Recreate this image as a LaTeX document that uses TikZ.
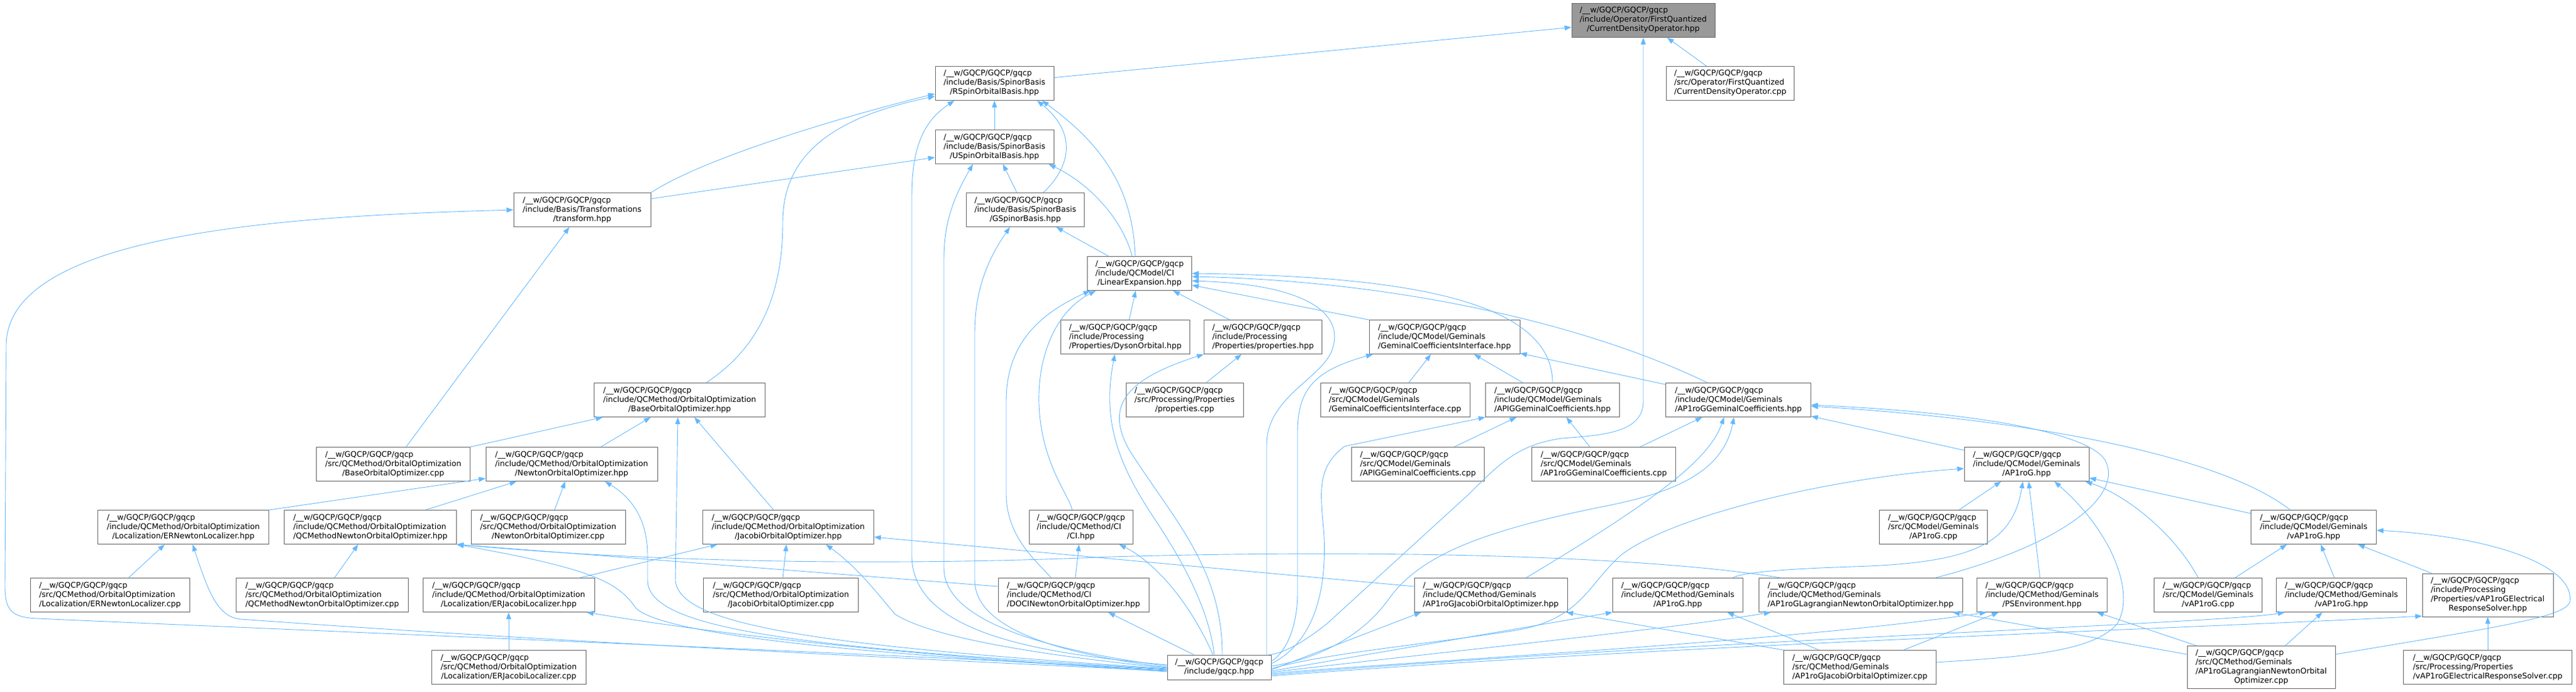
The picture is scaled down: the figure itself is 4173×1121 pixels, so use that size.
\documentclass[tikz,border=0pt]{standalone}
\usepackage{fontspec}
\setmainfont{DejaVu Sans}
\usepackage{xcolor}
\usetikzlibrary{arrows.meta}

\definecolor{edgeblue}{HTML}{63B8FF}
\definecolor{boxline}{HTML}{666666}
\definecolor{rootfill}{HTML}{999999}

% file label: common prefix, middle lines left, last line centred
\newcommand{\gpath}[2]{\begin{tabular}{@{}l@{}}/\_\_w/GQCP/GQCP/gqcp\\#1\\\multicolumn{1}{@{}c@{}}{#2}\end{tabular}}

\begin{document}
\begin{tikzpicture}[x=1pt, y=-1pt,
  >={Triangle[length=11pt,width=8pt]},
  fbox/.style={draw=boxline, line width=0.9pt, fill=white, inner sep=0pt,
    minimum height=55pt, font=\fontsize{12.6}{15}\selectfont},
  incl/.style={<-, draw=edgeblue, line width=0.9pt}]
  \useasboundingbox (0,0) rectangle (4173,1121);

  % Draw the file boxes, rank by rank
  \node[fbox, fill=rootfill, minimum width=232pt] (cdo) at (2662,33) {\gpath{/include/Operator/FirstQuantized}{/CurrentDensityOperator.hpp}};
  \node[fbox, minimum width=192pt] (rsob) at (1611,135) {\gpath{/include/Basis/SpinorBasis}{/RSpinOrbitalBasis.hpp}};
  \node[fbox, minimum width=207pt] (cdocpp) at (2803,135) {\gpath{/src/Operator/FirstQuantized}{/CurrentDensityOperator.cpp}};
  \node[fbox, minimum width=192pt] (usob) at (1611,238) {\gpath{/include/Basis/SpinorBasis}{/USpinOrbitalBasis.hpp}};
  \node[fbox, minimum width=222pt] (transform) at (943,340) {\gpath{/include/Basis/Transformations}{/transform.hpp}};
  \node[fbox, minimum width=191pt] (gsb) at (1661,340) {\gpath{/include/Basis/SpinorBasis}{/GSpinorBasis.hpp}};
  \node[fbox, minimum width=169pt] (linexp) at (1846,443) {\gpath{/include/QCModel/CI}{/LinearExpansion.hpp}};
  \node[fbox, minimum width=209pt] (dyson) at (1823,546) {\gpath{/include/Processing}{/Properties/DysonOrbital.hpp}};
  \node[fbox, minimum width=191pt] (props) at (2046,546) {\gpath{/include/Processing}{/Properties/properties.hpp}};
  \node[fbox, minimum width=244pt] (gci) at (2340,546) {\gpath{/include/QCModel/Geminals}{/GeminalCoefficientsInterface.hpp}};
  \node[fbox, minimum width=277pt] (boo) at (1101,648) {\gpath{/include/QCMethod/OrbitalOptimization}{/BaseOrbitalOptimizer.hpp}};
  \node[fbox, minimum width=190pt] (propscpp) at (1919,648) {\gpath{/src/Processing/Properties}{/properties.cpp}};
  \node[fbox, minimum width=242pt] (gcicpp) at (2260,648) {\gpath{/src/QCModel/Geminals}{/GeminalCoefficientsInterface.cpp}};
  \node[fbox, minimum width=217pt] (apig) at (2515,648) {\gpath{/include/QCModel/Geminals}{/APIGGeminalCoefficients.hpp}};
  \node[fbox, minimum width=235pt] (ap1rogc) at (2816,648) {\gpath{/include/QCModel/Geminals}{/AP1roGGeminalCoefficients.hpp}};
  \node[fbox, minimum width=249pt] (boocpp) at (637,752) {\gpath{/src/QCMethod/OrbitalOptimization}{/BaseOrbitalOptimizer.cpp}};
  \node[fbox, minimum width=278pt] (noo) at (926,752) {\gpath{/include/QCMethod/OrbitalOptimization}{/NewtonOrbitalOptimizer.hpp}};
  \node[fbox, minimum width=215pt] (apigcpp) at (2297,752) {\gpath{/src/QCModel/Geminals}{/APIGGeminalCoefficients.cpp}};
  \node[fbox, minimum width=233pt] (ap1rogccpp) at (2598,752) {\gpath{/src/QCModel/Geminals}{/AP1roGGeminalCoefficients.cpp}};
  \node[fbox, minimum width=202pt] (ap1rog) at (3283,752) {\gpath{/include/QCModel/Geminals}{/AP1roG.hpp}};
  \node[fbox, minimum width=277pt] (ernl) at (297,854) {\gpath{/include/QCMethod/OrbitalOptimization}{/Localization/ERNewtonLocalizer.hpp}};
  \node[fbox, minimum width=279pt] (qcmnoo) at (600,854) {\gpath{/include/QCMethod/OrbitalOptimization}{/QCMethodNewtonOrbitalOptimizer.hpp}};
  \node[fbox, minimum width=250pt] (noocpp) at (888,854) {\gpath{/src/QCMethod/OrbitalOptimization}{/NewtonOrbitalOptimizer.cpp}};
  \node[fbox, minimum width=277pt] (joo) at (1277,854) {\gpath{/include/QCMethod/OrbitalOptimization}{/JacobiOrbitalOptimizer.hpp}};
  \node[fbox, minimum width=168pt] (ci) at (1751,854) {\gpath{/include/QCMethod/CI}{/CI.hpp}};
  \node[fbox, minimum width=175pt] (ap1rogcpp) at (3132,854) {\gpath{/src/QCModel/Geminals}{/AP1roG.cpp}};
  \node[fbox, minimum width=203pt] (vap1rog) at (3748,854) {\gpath{/include/QCModel/Geminals}{/vAP1roG.hpp}};
  \node[fbox, minimum width=258pt] (ernlcpp) at (178,964) {\gpath{/src/QCMethod/OrbitalOptimization}{/Localization/ERNewtonLocalizer.cpp}};
  \node[fbox, minimum width=279pt] (qcmnoocpp) at (522,964) {\gpath{/src/QCMethod/OrbitalOptimization}{/QCMethodNewtonOrbitalOptimizer.cpp}};
  \node[fbox, minimum width=278pt] (erjl) at (824,964) {\gpath{/include/QCMethod/OrbitalOptimization}{/Localization/ERJacobiLocalizer.hpp}};
  \node[fbox, minimum width=251pt] (joocpp) at (1265,964) {\gpath{/src/QCMethod/OrbitalOptimization}{/JacobiOrbitalOptimizer.cpp}};
  \node[fbox, minimum width=244pt] (docinoo) at (1739,964) {\gpath{/include/QCMethod/CI}{/DOCINewtonOrbitalOptimizer.hpp}};
  \node[fbox, minimum width=248pt] (ajoo) at (2415,964) {\gpath{/include/QCMethod/Geminals}{/AP1roGJacobiOrbitalOptimizer.hpp}};
  \node[fbox, minimum width=211pt] (mapr1og) at (2718,964) {\gpath{/include/QCMethod/Geminals}{/AP1roG.hpp}};
  \node[fbox, minimum width=330pt] (alnoo) at (3014,964) {\gpath{/include/QCMethod/Geminals}{/AP1roGLagrangianNewtonOrbitalOptimizer.hpp}};
  \node[fbox, minimum width=211pt] (pse) at (3308,964) {\gpath{/include/QCMethod/Geminals}{/PSEnvironment.hpp}};
  \node[fbox, minimum width=175pt] (vap1rogcpp) at (3577,964) {\gpath{/src/QCModel/Geminals}{/vAP1roG.cpp}};
  \node[fbox, minimum width=211pt] (mvap1rog) at (3793,964) {\gpath{/include/QCMethod/Geminals}{/vAP1roG.hpp}};
  \node[fbox, minimum width=212pt, minimum height=70pt] (ers) at (4030,964) {\gpath{/include/Processing\\/Properties/vAP1roGElectrical}{ResponseSolver.hpp}};
  \node[fbox, minimum width=250pt] (erjlcpp) at (824,1081) {\gpath{/src/QCMethod/OrbitalOptimization}{/Localization/ERJacobiLocalizer.cpp}};
  \node[fbox, minimum width=168pt, minimum height=40pt, align=center] (gqcp) at (1975,1081) {/\_\_w/GQCP/GQCP/gqcp\\/include/gqcp.hpp};
  \node[fbox, minimum width=247pt] (ajoocpp) at (3013,1081) {\gpath{/src/QCMethod/Geminals}{/AP1roGJacobiOrbitalOptimizer.cpp}};
  \node[fbox, minimum width=240pt, minimum height=69pt] (alnoocpp) at (3663,1081) {\gpath{/src/QCMethod/Geminals\\/AP1roGLagrangianNewtonOrbital}{Optimizer.cpp}};
  \node[fbox, minimum width=273pt] (erscpp) at (4030,1081) {\gpath{/src/Processing/Properties}{/vAP1roGElectricalResponseSolver.cpp}};

  % CurrentDensityOperator.hpp
  \draw[incl] (cdo) -- (rsob);
  \draw[incl] (cdo) -- (cdocpp);
  \draw[incl] (cdo.south) -- (2662,650) .. controls (2662,700) and (2600,705) .. (2530,710) .. controls (2460,720) and (2430,750) .. (2380,800) -- (2150,1010) .. controls (2100,1050) and (2070,1060) .. ([xshift=-4pt]gqcp.north east);

  % RSpinOrbitalBasis.hpp
  \draw[incl] (rsob) -- (usob);
  \draw[incl] ([yshift=-17pt]rsob.west) .. controls (1400,180) and (1150,250) .. (transform.north east);
  \draw[incl] ([yshift=-21pt]rsob.west) .. controls (1350,190) and (1268,250) .. (1268,360) .. controls (1268,470) and (1235,560) .. ([xshift=43pt]boo.north);
  \draw[incl] ([xshift=-65pt]rsob.south) .. controls (1490,200) and (1477,250) .. (1477,320) -- (1477,900) .. controls (1477,1030) and (1700,1060) .. ([yshift=4pt]gqcp.west);
  \draw[incl] ([xshift=69pt]rsob.south) .. controls (1745,215) and (1735,270) .. ([xshift=29pt]gsb.north);
  \draw[incl] ([xshift=77pt]rsob.south) .. controls (1780,230) and (1835,300) .. ([xshift=-7pt]linexp.north);

  % USpinOrbitalBasis.hpp
  \draw[incl] ([yshift=-17pt]usob.west) -- ([yshift=18pt]transform.east);
  \draw[incl] (usob) -- (gsb);
  \draw[incl] ([xshift=88pt]usob.south) .. controls (1770,300) and (1820,360) .. ([xshift=-12pt]linexp.north);
  \draw[incl] ([xshift=-35pt]usob.south) .. controls (1545,320) and (1529,360) .. (1529,420) -- (1529,920) .. controls (1529,1020) and (1750,1060) .. ([yshift=2pt]gqcp.west);

  % transform.hpp and GSpinorBasis.hpp
  \draw[incl] (transform) -- (boocpp);
  \draw[incl] (transform.west) .. controls (450,350) and (10,380) .. (10,560) -- (8,950) .. controls (8,990) and (20,1000) .. (60,1002) .. controls (700,1030) and (1500,1062) .. ([yshift=-4pt]gqcp.west);
  \draw[incl] (gsb) -- (linexp);
  \draw[incl] ([xshift=-25pt]gsb.south) .. controls (1600,420) and (1579,470) .. (1579,540) -- (1579,940) .. controls (1579,1030) and (1760,1065) .. (gqcp.west);

  % LinearExpansion.hpp
  \draw[incl] ([xshift=-71pt]linexp.south) .. controls (1700,510) and (1675,600) .. (1685,680) .. controls (1695,760) and (1730,800) .. ([xshift=-14pt]ci.north);
  \draw[incl] ([xshift=-80pt]linexp.south) .. controls (1680,510) and (1630,560) .. (1630,650) -- (1630,800) .. controls (1630,870) and (1680,910) .. ([xshift=-36pt]docinoo.north);
  \draw[incl] (linexp) -- (dyson);
  \draw[incl] (linexp) -- (props);
  \draw[incl] ([yshift=-19pt]linexp.east) -- (gci.north west);
  \draw[incl] (linexp.east) .. controls (2250,447) and (2515,480) .. (apig.north);
  \draw[incl] ([yshift=-5pt]linexp.east) .. controls (2250,455) and (2560,520) .. ([xshift=-50pt]ap1rogc.north);
  \draw[incl] ([yshift=-12pt]linexp.east) .. controls (2100,460) and (2175,500) .. (2160,560) .. controls (2150,610) and (2052,640) .. (2052,720) -- ([xshift=77pt]gqcp.north);

  % Processing/Properties
  \draw[incl] ([xshift=-17pt]dyson.south) .. controls (1785,680) and (1810,750) .. (1870,840) .. controls (1930,930) and (1960,1000) .. ([xshift=-8pt]gqcp.north);
  \draw[incl] (props) -- (propscpp);
  \draw[incl] (props.south west) .. controls (1820,615) and (1790,660) .. (1830,730) .. controls (1900,840) and (1980,920) .. ([xshift=5pt]gqcp.north);

  % GeminalCoefficientsInterface.hpp
  \draw[incl] (gci) -- (gcicpp);
  \draw[incl] (gci) -- (apig);
  \draw[incl] (gci) -- (ap1rogc);
  \draw[incl] ([xshift=-116pt]gci.south) .. controls (2130,600) and (2102,630) .. (2102,700) -- (2102,960) .. controls (2102,1020) and (2080,1060) .. ([yshift=10pt]gqcp.east);

  % APIGGeminalCoefficients.hpp
  \draw[incl] (apig) -- (apigcpp);
  \draw[incl] (apig) -- (ap1rogccpp);
  \draw[incl] (apig.south west) -- (2178,723) .. controls (2130,760) and (2140,800) .. (2145,870) .. controls (2150,990) and (2110,1050) .. ([yshift=6pt]gqcp.east);

  % AP1roGGeminalCoefficients.hpp
  \draw[incl] (ap1rogc) -- (ap1rogccpp);
  \draw[incl] (ap1rogc) -- (ap1rog);
  \draw[incl] ([xshift=-23pt]ap1rogc.south) .. controls (2770,740) and (2700,800) .. ([xshift=57pt]ajoo.north);
  \draw[incl] ([xshift=-7pt]ap1rogc.south) .. controls (2790,770) and (2700,800) .. (2600,820) .. controls (2400,860) and (2300,900) .. (2250,970) .. controls (2200,1040) and (2120,1070) .. ([yshift=2pt]gqcp.east);
  \draw[incl] ([yshift=-10pt]ap1rogc.east) .. controls (3300,680) and (3600,740) .. ([xshift=-38pt]vap1rog.north);
  \draw[incl] ([yshift=-8pt]ap1rogc.east) .. controls (3200,668) and (3380,700) .. (3410,745) .. controls (3440,800) and (3350,880) .. ([xshift=121pt]alnoo.north);

  % QCModel/Geminals/AP1roG.hpp
  \draw[incl] (ap1rog) -- (ap1rogcpp);
  \draw[incl] ([xshift=-6pt]ap1rog.south) .. controls (3260,880) and (3200,912) .. (3000,918) .. controls (2880,922) and (2820,928) .. ([xshift=89pt]mapr1og.north);
  \draw[incl] (ap1rog) -- (pse);
  \draw[incl] ([xshift=45pt]ap1rog.south) .. controls (3420,860) and (3460,960) .. (3430,1010) .. controls (3390,1060) and (3250,1065) .. ([yshift=8pt]ajoocpp.east);
  \draw[incl] (ap1rog) -- (vap1rog);
  \draw[incl] ([xshift=95pt]ap1rog.south) .. controls (3440,800) and (3520,860) .. ([xshift=-16pt]vap1rogcpp.north);
  \draw[incl] ([yshift=-7pt]ap1rog.west) .. controls (2950,775) and (2700,840) .. (2625,900) .. controls (2570,950) and (2560,1005) .. (2450,1022) .. controls (2300,1045) and (2150,1058) .. ([yshift=-2pt]gqcp.east);

  % OrbitalOptimization
  \draw[incl] (boo) -- (boocpp);
  \draw[incl] (boo) -- (noo);
  \draw[incl] (boo) -- (joo);
  \draw[incl] ([xshift=-3pt]boo.south) -- (1094,940) .. controls (1100,1010) and (1300,1045) .. ([yshift=-2pt]gqcp.west);
  \draw[incl] ([yshift=-23pt]noo.west) -- (ernl.north east);
  \draw[incl] (noo) -- (qcmnoo);
  \draw[incl] (noo) -- (noocpp);
  \draw[incl] ([xshift=54pt]noo.south) .. controls (1030,810) and (1049,850) .. (1049,900) -- (1049,940) .. controls (1049,1020) and (1300,1050) .. ([yshift=-3pt]gqcp.west);
  \draw[incl] (ernl) -- (ernlcpp);
  \draw[incl] ([xshift=15pt]ernl.south) .. controls (335,950) and (350,1000) .. (390,1003) .. controls (900,1040) and (1500,1068) .. ([yshift=-6pt]gqcp.west);
  \draw[incl] (qcmnoo) -- (qcmnoocpp);
  \draw[incl] (qcmnoo.south east) -- ([yshift=14pt]docinoo.west);
  \draw[incl] (qcmnoo.south east) .. controls (1100,915) and (1500,915) .. (1800,902) .. controls (2300,888) and (2700,905) .. ([xshift=36pt]alnoo.north west);
  \draw[incl] (qcmnoo.south east) .. controls (950,920) and (1000,940) .. (1030,985) .. controls (1080,1035) and (1500,1066) .. ([yshift=-5pt]gqcp.west);
  \draw[incl] (joo) -- (erjl);
  \draw[incl] (joo) -- (joocpp);
  \draw[incl] ([yshift=-16pt]joo.east) -- ([yshift=14pt]ajoo.west);
  \draw[incl] ([xshift=61pt]joo.south) .. controls (1390,920) and (1420,960) .. (1450,995) .. controls (1520,1040) and (1750,1068) .. ([yshift=-1pt]gqcp.west);
  \draw[incl] (erjl) -- (erjlcpp);
  \draw[incl] ([xshift=-13pt]erjl.south east) .. controls (1300,1050) and (1700,1075) .. ([yshift=-7pt]gqcp.west);

  % CI
  \draw[incl] (ci) -- (docinoo);
  \draw[incl] ([xshift=62pt]ci.south) .. controls (1860,905) and (1920,960) .. ([xshift=-10pt]gqcp.north);
  \draw[incl] (docinoo) -- (gqcp);

  % QCMethod/Geminals
  \draw[incl] ([xshift=-2pt]ajoo.south east) -- (ajoocpp.north west);
  \draw[incl] ([xshift=-113pt]ajoo.south) -- ([yshift=-4pt]gqcp.east);
  \draw[incl] ([xshift=80pt]mapr1og.south) -- ([xshift=-66pt]ajoocpp.north);
  \draw[incl] (mapr1og.south west) -- ([yshift=-6pt]gqcp.east);
  \draw[incl] ([xshift=-16pt]alnoo.south east) -- ([yshift=21pt]alnoocpp.west);
  \draw[incl] ([xshift=20pt]alnoo.south west) .. controls (2700,1020) and (2300,1060) .. ([yshift=-8pt]gqcp.east);
  \draw[incl] (pse) -- (ajoocpp);
  \draw[incl] ([xshift=-17pt]pse.south east) -- ([xshift=16pt]alnoocpp.north west);
  \draw[incl] ([xshift=-90pt]pse.south) .. controls (2900,1040) and (2300,1070) .. ([yshift=-10pt]gqcp.east);

  % vAP1roG
  \draw[incl] (vap1rog) -- (vap1rogcpp);
  \draw[incl] (vap1rog) -- (mvap1rog);
  \draw[incl] (vap1rog) -- (ers);
  \draw[incl] ([yshift=-5pt]vap1rog.east) .. controls (4050,870) and (4172,920) .. (4163,975) .. controls (4155,1000) and (4050,1015) .. ([yshift=21pt]alnoocpp.east);
  \draw[incl] (mvap1rog) -- (alnoocpp);
  \draw[incl] ([xshift=-92pt]mvap1rog.south) .. controls (3600,1010) and (2700,1040) .. ([yshift=-12pt]gqcp.east);
  \draw[incl] (ers) -- (erscpp);
  \draw[incl] ([yshift=-34pt]ers.west) .. controls (3500,1020) and (2700,1045) .. ([yshift=-14pt]gqcp.east);
\end{tikzpicture}
\end{document}
